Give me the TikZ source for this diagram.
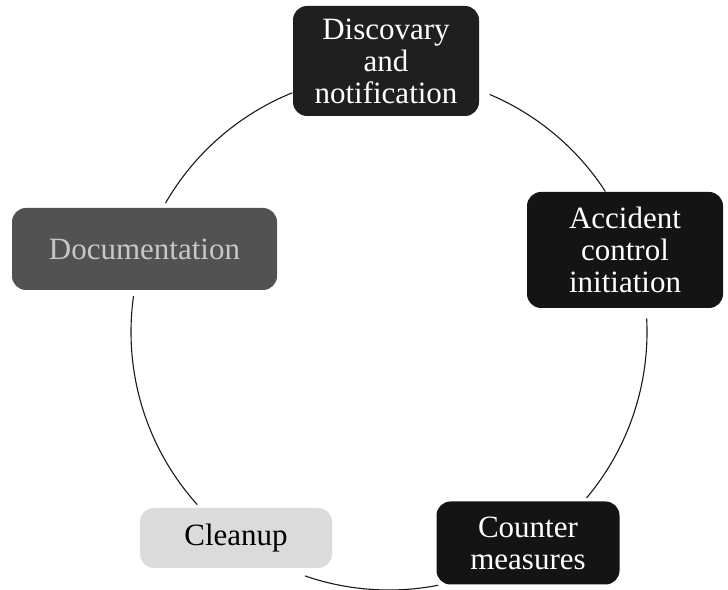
\documentclass[tikz,border=0pt]{standalone}
\usepackage{fontspec}
\setmainfont{Liberation Serif}
\tikzset{
  stage/.style={
    rectangle, rounded corners=14pt,
    inner sep=0pt, align=center, text=white,
    font=\fontsize{31}{32}\selectfont,
  },
  cycarc/.style={draw=black!90, line width=1.1pt},
}

\begin{document}
\begin{tikzpicture}[x=1pt, y=1pt]
  \useasboundingbox (0,0) rectangle (728,589);
  \coordinate (ctr) at (389,257);

  \node[stage, fill=black!88, minimum width=186pt, minimum height=110pt] (discov) at (386,528) {Discovary\\and\\notification};
  \node[stage, fill=black!92, minimum width=196pt, minimum height=116pt] (accid) at (625,339) {Accident\\control\\initiation};
  \node[stage, fill=black!92, minimum width=183pt, minimum height=83pt] (counter) at (528,46) {Counter\\measures};
  \node[stage, fill=black!14, text=black, minimum width=192pt, minimum height=60pt] (clean) at (236,51) {Cleanup};
  \node[stage, fill=black!68, text=black!22, minimum width=265pt, minimum height=82pt] (docu) at (144.5,340) {Documentation};

  % arcs of the cycle
  \draw[cycarc] (ctr) ++(67:258) arc[start angle=67, end angle=33, radius=258];
  \draw[cycarc] (ctr) ++(3:258) arc[start angle=3, end angle=-40, radius=258];
  \draw[cycarc] (ctr) ++(-79:258) arc[start angle=-79, end angle=-109, radius=258];
  \draw[cycarc] (ctr) ++(-138:258) arc[start angle=-138, end angle=-188, radius=258];
  \draw[cycarc] (ctr) ++(150:258) arc[start angle=150, end angle=112, radius=258];
\end{tikzpicture}
\end{document}
